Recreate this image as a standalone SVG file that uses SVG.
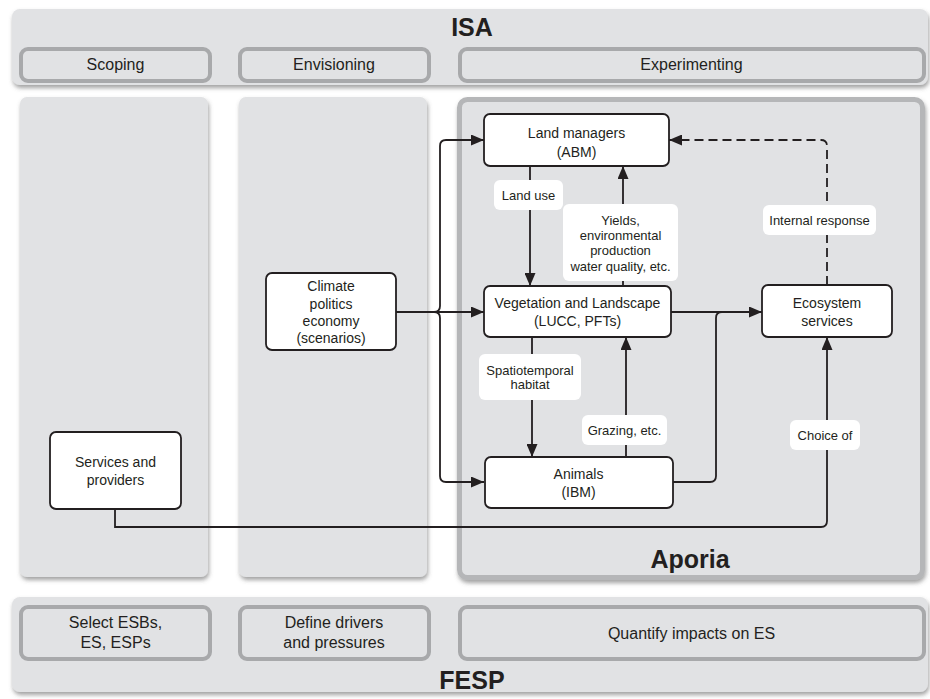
<svg xmlns="http://www.w3.org/2000/svg" width="930" height="699" viewBox="0 0 930 699">
<defs>
<style>
.panel{fill:#e1e2e4}
.sub{fill:#e1e2e4;stroke:#a8a9ab;stroke-width:4}
.node{fill:#ffffff;stroke:#231f20;stroke-width:1.8}
.lbl{fill:#ffffff}
.t{font-family:"Liberation Sans",Arial,sans-serif;fill:#231f20;text-anchor:middle}
.n{font-size:14px}
.s{font-size:13px}
.h{font-size:16px}
.b{font-size:25px;font-weight:bold}
.c{fill:none;stroke:#231f20;stroke-width:1.8}
.d{stroke-dasharray:9 5}
</style>
<marker id="ah" markerUnits="userSpaceOnUse" markerWidth="13" markerHeight="11" refX="13" refY="5.5" orient="auto">
<path d="M0,0 L13,5.5 L0,11 z" fill="#231f20"/>
</marker>
<filter id="sh" x="-5%" y="-5%" width="110%" height="115%">
<feDropShadow dx="1" dy="3" stdDeviation="2" flood-color="#555" flood-opacity="0.55"/>
</filter>
</defs>
<rect width="930" height="699" fill="#ffffff"/>

<g id="isa">
<rect class="panel" x="12" y="9" width="916" height="76" rx="8" filter="url(#sh)"/>
<text class="t b" x="472" y="36">ISA</text>
<rect class="sub" x="21" y="49" width="189" height="32" rx="7"/>
<text class="t h" x="115.5" y="70">Scoping</text>
<rect class="sub" x="240" y="49" width="189" height="32" rx="7"/>
<text class="t h" x="334" y="70">Envisioning</text>
<rect class="sub" x="460" y="49" width="464" height="32" rx="7"/>
<text class="t h" x="691.5" y="70">Experimenting</text>
</g>

<g id="col-scoping"><rect class="panel" x="20" y="97" width="188" height="480" rx="7" filter="url(#sh)"/></g>
<g id="col-envisioning"><rect class="panel" x="239" y="97" width="188" height="480" rx="7" filter="url(#sh)"/></g>
<g id="aporia">
<rect x="459.5" y="99.5" width="463" height="478" rx="8" fill="#e1e2e4" stroke="#b5b6b8" stroke-width="5" filter="url(#sh)"/>
<text class="t b" x="690" y="568">Aporia</text>
</g>

<g id="fesp">
<rect class="panel" x="12" y="597" width="916" height="95" rx="8" filter="url(#sh)"/>
<rect class="sub" x="21" y="607" width="189" height="52" rx="7"/>
<text class="t h" x="115.5" y="627.5">Select ESBs,</text>
<text class="t h" x="115.5" y="647.5">ES, ESPs</text>
<rect class="sub" x="240" y="607" width="189" height="52" rx="7"/>
<text class="t h" x="334" y="627.5">Define drivers</text>
<text class="t h" x="334" y="647.5">and pressures</text>
<rect class="sub" x="460" y="607" width="464" height="52" rx="7"/>
<text class="t h" x="691.5" y="638.5">Quantify impacts on ES</text>
<text class="t b" x="472" y="689">FESP</text>
</g>

<g id="connectors">
<path class="c" d="M396,312 H434 Q440,312 440,306 V146 Q440,140 446,140 H484" marker-end="url(#ah)"/>
<path class="c" d="M434,312 Q440,312 440,318 V476 Q440,482 446,482 H484" marker-end="url(#ah)"/>
<path class="c" d="M434,312 H484" marker-end="url(#ah)"/>
<path class="c" d="M530,166 V286" marker-end="url(#ah)"/>
<path class="c" d="M623,286 V166" marker-end="url(#ah)"/>
<path class="c d" d="M827,285 V146 Q827,140 821,140 H669" marker-end="url(#ah)"/>
<path class="c" d="M670,312 H762" marker-end="url(#ah)"/>
<path class="c" d="M673,482 H710 Q716,482 716,476 V318 Q716,312 722,312"/>
<path class="c" d="M532,337 V457" marker-end="url(#ah)"/>
<path class="c" d="M626,457 V337" marker-end="url(#ah)"/>
<path class="c" d="M115,509 V527 H821 Q827,527 827,521 V337" marker-end="url(#ah)"/>
<rect class="lbl" x="494" y="180" width="69" height="30" rx="6"/>
<text class="t s" x="528.5" y="199.5">Land use</text>
<rect class="lbl" x="563" y="204" width="115" height="77" rx="6"/>
<text class="t s" x="620.5" y="224.5">Yields,</text>
<text class="t s" x="620.5" y="239.5">environmental</text>
<text class="t s" x="620.5" y="255">production</text>
<text class="t s" x="620.5" y="270.5">water quality, etc.</text>
<rect class="lbl" x="763" y="205" width="113" height="30" rx="6"/>
<text class="t s" x="819.5" y="224.5">Internal response</text>
<rect class="lbl" x="479" y="354" width="102" height="46" rx="6"/>
<text class="t s" x="530" y="374.5">Spatiotemporal</text>
<text class="t s" x="530" y="389">habitat</text>
<rect class="lbl" x="582" y="415" width="85" height="30" rx="6"/>
<text class="t s" x="624.5" y="434.5">Grazing, etc.</text>
<rect class="lbl" x="790" y="420" width="70" height="30" rx="6"/>
<text class="t s" x="825" y="439.5">Choice of</text>
</g>

<g id="land-managers">
<rect class="node" x="484" y="114" width="185" height="52" rx="6"/>
<text class="t n" x="576.5" y="138">Land managers</text>
<text class="t n" x="576.5" y="157">(ABM)</text>
</g>
<g id="vegetation">
<rect class="node" x="484" y="286" width="187" height="51" rx="6"/>
<text class="t n" x="577.5" y="308">Vegetation and Landscape</text>
<text class="t n" x="577.5" y="325.5">(LUCC, PFTs)</text>
</g>
<g id="animals">
<rect class="node" x="485" y="457" width="188" height="51" rx="6"/>
<text class="t n" x="578.5" y="479">Animals</text>
<text class="t n" x="578.5" y="497">(IBM)</text>
</g>
<g id="ecosystem-services">
<rect class="node" x="762" y="285" width="130" height="52" rx="6"/>
<text class="t n" x="827" y="308">Ecosystem</text>
<text class="t n" x="827" y="326">services</text>
</g>
<g id="climate">
<rect class="node" x="266" y="273" width="130" height="77" rx="6"/>
<text class="t n" x="331" y="291">Climate</text>
<text class="t n" x="331" y="308.5">politics</text>
<text class="t n" x="331" y="326">economy</text>
<text class="t n" x="331" y="343">(scenarios)</text>
</g>
<g id="services-providers">
<rect class="node" x="50" y="432" width="131" height="77" rx="6"/>
<text class="t n" x="115.5" y="467">Services and</text>
<text class="t n" x="115.5" y="485">providers</text>
</g>
</svg>
